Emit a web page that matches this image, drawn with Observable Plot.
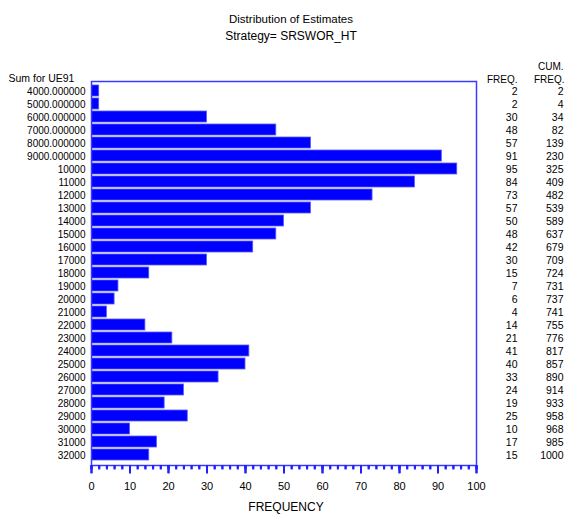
<!DOCTYPE html>
<html><head><meta charset="utf-8">
<script src="https://cdn.jsdelivr.net/npm/d3@7"></script>
<script src="https://cdn.jsdelivr.net/npm/@observablehq/plot@0.6"></script>
<style>body{margin:0;background:#fff;} svg{display:block;}</style>
</head><body><div id="chart"></div>
<script>
const categories = ["4000.000000","5000.000000","6000.000000","7000.000000","8000.000000","9000.000000",
  "10000","11000","12000","13000","14000","15000","16000","17000","18000","19000","20000","21000",
  "22000","23000","24000","25000","26000","27000","28000","29000","30000","31000","32000"];
const freq = [2,2,30,48,57,91,95,84,73,57,50,48,42,30,15,7,6,4,14,21,41,40,33,24,19,25,10,17,15];
const cumFreq = [2,4,34,82,139,230,325,409,482,539,589,637,679,709,724,731,737,741,755,776,817,857,890,914,933,958,968,985,1000];
const xTicks = [0,10,20,30,40,50,60,70,80,90,100];
const xMinorTicks = d3.range(0, 101, 2);

const data = categories.map((c, i) => ({cat: c, freq: freq[i], cum: cumFreq[i]}));
const blue = "#0000ff";
const lineBlue = "#3a3aff";
const tickBlue = "#2020ff";
const fnt = "Liberation Sans, Arial, sans-serif";
const W = 566, H = 521, mL = 91, mR = 90, mT = 81, mB = 56;

const majorTick = {draw(context) { context.moveTo(0, 0); context.lineTo(0, 8); }};
const minorTick = {draw(context) { context.moveTo(0, 0); context.lineTo(0, 4); }};

const chart = Plot.plot({
  width: W, height: H,
  marginLeft: mL, marginRight: mR, marginTop: mT, marginBottom: mB,
  style: {fontFamily: fnt, fontSize: "10px", background: "#fff"},
  x: {domain: [0, 100]},
  y: {domain: categories, padding: 0},
  marks: [
    Plot.barX(data, {x: "freq", y: "cat", fill: blue, stroke: "#5a5aff", strokeWidth: 0.8, insetBottom: 2, insetLeft: 0.5}),
    Plot.frame({stroke: lineBlue, strokeWidth: 1.5}),
    Plot.axisX({ticks: xMinorTicks, tickSize: 4, text: null, label: null, stroke: tickBlue, strokeWidth: 2}),
    Plot.axisX({ticks: xTicks, tickSize: 8, tickPadding: 9, stroke: tickBlue, strokeWidth: 2, fill: "#000", fontSize: 11, label: null}),
    Plot.dot(xMinorTicks, {x: d => d, frameAnchor: "bottom", symbol: minorTick, fill: "none", stroke: tickBlue, strokeWidth: 2}),
    Plot.dot(xTicks, {x: d => d, frameAnchor: "bottom", symbol: majorTick, fill: "none", stroke: tickBlue, strokeWidth: 2}),
    Plot.axisY({tickSize: 0, tickPadding: 6, label: null, fontSize: 10, fill: "#000"}),
    Plot.text(data, {y: "cat", text: d => String(d.freq), frameAnchor: "right", dx: 41, textAnchor: "end", fontSize: 10.5, fill: "#000"}),
    Plot.text(data, {y: "cat", text: d => String(d.cum), frameAnchor: "right", dx: 87, textAnchor: "end", fontSize: 10.5, fill: "#000"}),
    Plot.text(["Sum for UE91"], {frameAnchor: "top-left", dx: -83, dy: -7, textAnchor: "start", fontSize: 10.5, fill: "#000"}),
    Plot.text(["FREQ."], {frameAnchor: "top-right", dx: 41, dy: -6, textAnchor: "end", fontSize: 10, fill: "#000"}),
    Plot.text(["FREQ."], {frameAnchor: "top-right", dx: 88, dy: -6, textAnchor: "end", fontSize: 10, fill: "#000"}),
    Plot.text(["CUM."], {frameAnchor: "top-right", dx: 87, dy: -19, textAnchor: "end", fontSize: 10, fill: "#000"}),
    Plot.text(["Distribution of Estimates"], {frameAnchor: "top", dx: 7, dy: -67, fontSize: 11.5, fill: "#000"}),
    Plot.text(["Strategy= SRSWOR_HT"], {frameAnchor: "top", dx: 7, dy: -50, fontSize: 12, fill: "#000"}),
    Plot.text(["FREQUENCY"], {frameAnchor: "bottom", dx: 2, dy: 45, fontSize: 12, fill: "#000"})
  ]
});
document.getElementById("chart").appendChild(chart);
</script>
</body></html>
